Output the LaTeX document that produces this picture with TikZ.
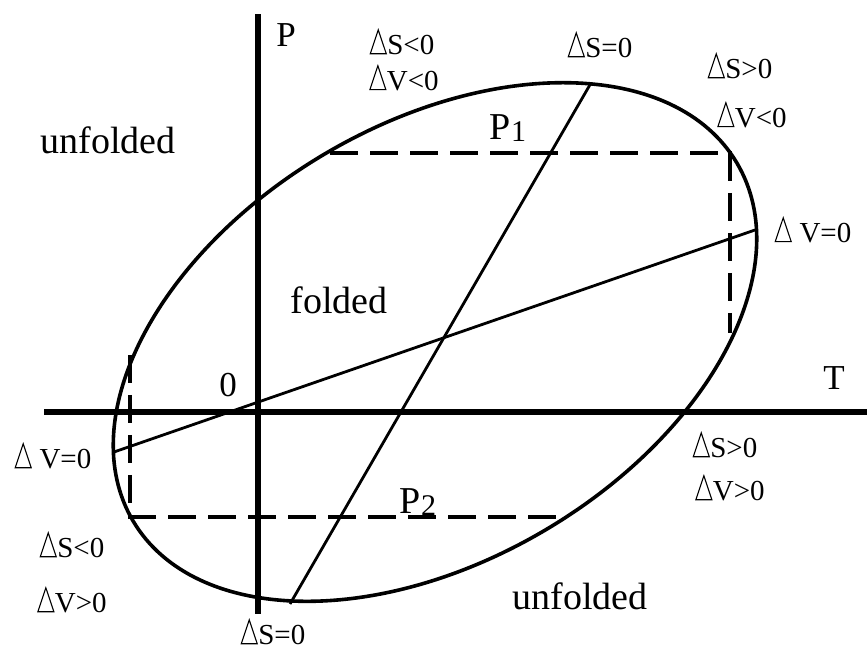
\documentclass[tikz,border=0pt]{standalone}
\usepackage{fontspec}
\setmainfont{Liberation Serif}
\newcommand\tri{\tikz[baseline=0pt,x=1pt,y=1pt]\draw[line width=1.1pt,line join=miter] (0.5,0.6)--(8.5,24.5)--(16.5,0.6)--cycle;\kern0.5pt}
\begin{document}
\begin{tikzpicture}[x=1pt,y=1pt,
  axisline/.style={line width=5.5pt},
  curve/.style={line width=3.6pt},
  chord/.style={line width=2.8pt},
  dashline/.style={line width=3.6pt, dash pattern=on 28pt off 12pt},
  big/.style={inner sep=0pt, font=\fontsize{38}{40}\selectfont},
  axlab/.style={inner sep=0pt, font=\fontsize{35}{37}\selectfont},
  cond/.style={inner sep=0pt, font=\fontsize{29}{31}\selectfont}]
\useasboundingbox (0,0) rectangle (867,650);
% axes
\coordinate (ptop) at (258,636);
\coordinate (pbot) at (258,36);
\coordinate (tleft) at (44,238);
\coordinate (tright) at (867,238);
\draw[axisline] (pbot) -- (ptop);
\draw[axisline] (tleft) -- (tright);
% ellipse
\coordinate (c) at (435,308);
\draw[curve, rotate around={30.7:(c)}] (c) ellipse [x radius=351, y radius=218];
% chords
\coordinate (s1) at (591,567);
\coordinate (s2) at (290,46);
\coordinate (v1) at (755,420);
\coordinate (v2) at (114,198);
\draw[chord] (s1) -- (s2);
\draw[chord] (v1) -- (v2);
% dashed
\coordinate (d1) at (330,497);
\coordinate (d2) at (730,497);
\coordinate (d3) at (730,317);
\coordinate (d4) at (130,295);
\coordinate (d5) at (130,133);
\coordinate (d6) at (566,133);
\draw[dashline] (d1) -- (d2) -- (d3);
\draw[dashline] (d4) -- (d5) -- (d6);
% labels
\node[axlab] (lp) at (286,615) {P};
\node[axlab] (lt) at (834,272) {T};
\node[axlab] (l0) at (228,265) {0};
\node[big] (uf1) at (108,510) {unfolded};
\node[big] (uf2) at (580,54) {unfolded};
\node[big] (fo) at (339,350) {folded};
\node[big] (p1) at (508,522) {P{\fontsize{30}{30}\selectfont\raisebox{-2pt}{1}}};
\node[big] (p2) at (418,148) {P{\fontsize{30}{30}\selectfont\raisebox{-2pt}{2}}};
\node[cond] (a1) at (402,608) {\tri S<0};
\node[cond] (a2) at (404,572) {\tri V<0};
\node[cond] (a3) at (600,605) {\tri S=0};
\node[cond] (a4) at (740,584) {\tri S>0};
\node[cond] (a5) at (752,535) {\tri V<0};
\node[cond] (a6) at (813,420) {\tri\ V=0};
\node[cond] (a7) at (53,194) {\tri\ V=0};
\node[cond] (a8) at (72,105) {\tri S<0};
\node[cond] (a9) at (72,50) {\tri V>0};
\node[cond] (a10) at (273,18) {\tri S=0};
\node[cond] (a11) at (725,205) {\tri S>0};
\node[cond] (a12) at (730,162) {\tri V>0};
\end{tikzpicture}
\end{document}
